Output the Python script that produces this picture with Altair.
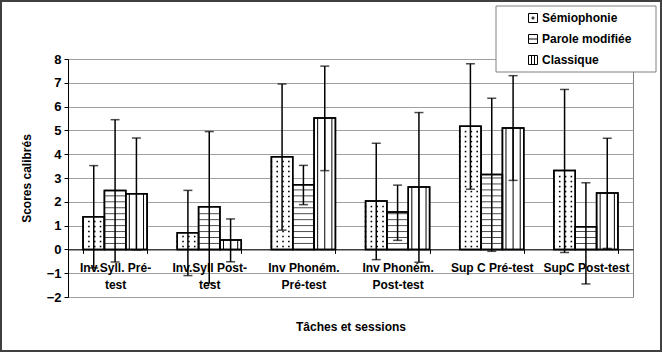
import altair as alt
import pandas as pd

categories = ["Inv.Syll. Pré-\ntest", "Inv.Syll Post-\ntest", "Inv Phoném.\nPré-test",
              "Inv Phoném.\nPost-test", "Sup C Pré-test", "SupC Post-test"]
series = ["Sémiophonie", "Parole modifiée", "Classique"]

semio = [1.37, 0.70, 3.89, 2.03, 5.17, 3.32]
semio_low = [-0.78, -1.10, 0.81, -0.43, 2.53, -0.13]
semio_high = [3.52, 2.48, 6.95, 4.46, 7.80, 6.72]

parole = [2.47, 1.79, 2.72, 1.57, 3.15, 0.95]
parole_low = [-0.53, -1.42, 1.88, 0.38, -0.08, -1.45]
parole_high = [5.45, 4.95, 3.53, 2.70, 6.35, 2.80]

classique = [2.34, 0.39, 5.52, 2.62, 5.10, 2.37]
classique_low = [-0.02, -0.52, 3.31, -0.54, 2.90, 0.04]
classique_high = [4.68, 1.28, 7.70, 5.75, 7.30, 4.67]

y_ticks = list(range(-2, 9))

legend_shapes = [
    "M-1,-1H1V1H-1Z M-0.2,-0.2H0.2V0.2H-0.2Z",
    "M-1,-1H1V1H-1Z M-1,0H1",
    "M-1,-1H1V1H-1Z M-0.33,-1V1 M0.33,-1V1",
]

FONT = "Liberation Sans"

rows = []
for i, c in enumerate(categories):
    for s, v, lo, hi in [(series[0], semio, semio_low, semio_high),
                         (series[1], parole, parole_low, parole_high),
                         (series[2], classique, classique_low, classique_high)]:
        rows.append(dict(cat=c, series=s, value=v[i], low=lo[i], high=hi[i]))
df = pd.DataFrame(rows)

# fill-pattern helpers (decoration derived from the bar heights)
dots = []
for i, c in enumerate(categories):
    r = 0
    yv = 0.12
    while yv < semio[i] - 0.06:
        for col in range(4):
            dots.append(dict(cat=c, slot=col, y=yv))
        r += 1
        yv = 0.12 + 0.21 * r
dots_df = pd.DataFrame(dots)

hstr = []
for i, c in enumerate(categories):
    k = 1
    while 0.25 * k < parole[i] - 0.05:
        hstr.append(dict(cat=c, series=series[1], y=0.25 * k))
        k += 1
hstr_df = pd.DataFrame(hstr)

vstr = []
for i, c in enumerate(categories):
    for sl in (6, 7, 8):
        vstr.append(dict(cat=c, slot=sl, value=classique[i]))
vstr_df = pd.DataFrame(vstr)

x_enc = alt.X(
    "cat:N", sort=categories,
    scale=alt.Scale(domain=categories, paddingInner=0.32, paddingOuter=0.16),
    axis=alt.Axis(
        title="Tâches et sessions", orient="bottom", offset=-47.6,
        labelAngle=0, labelExpr="split(datum.label, '\\n')",
        labelFont=FONT, labelFontWeight="bold", labelFontSize=12, labelColor="black",
        labelPadding=9, labelLineHeight=17, labelBaseline="top",
        domainColor="black", domainWidth=1, tickBand="extent", tickSize=4,
        tickColor="black", grid=False,
        titleFont=FONT, titleFontWeight="bold", titleFontSize=12, titleColor="black",
        titleY=77, titleBaseline="middle",
    ),
)

yscale = alt.Scale(domain=[-2, 8], nice=False, zero=False)
yaxis = alt.Axis(
    title="Scores calibrés", values=y_ticks, format="d",
    labelFont=FONT, labelFontWeight="bold", labelFontSize=13, labelColor="black",
    labelPadding=3, tickSize=4, tickColor="black", domainColor="black", domainWidth=1,
    grid=True, gridColor="#a0a0a0", gridWidth=1,
    titleFont=FONT, titleFontWeight="bold", titleFontSize=12, titleColor="black",
    titleX=-42, titleY=119, titleBaseline="middle", titleAlign="center", titleAngle=-90,
)


def yenc(field):
    return alt.Y(field, scale=yscale, axis=yaxis, title="Scores calibrés")


xoff_series = alt.XOffset("series:N", scale=alt.Scale(domain=series, paddingInner=0, paddingOuter=0))

base = alt.Chart(df)

bars_fill = base.mark_bar(fill="white", stroke="black", strokeWidth=1.5).encode(
    x=x_enc, xOffset=xoff_series, y=yenc("value:Q"), y2=alt.datum(0))

dots_layer = alt.Chart(dots_df).mark_square(size=2.5, color="black", opacity=1).encode(
    x=x_enc,
    xOffset=alt.XOffset("slot:O", scale=alt.Scale(domain=list(range(12)), paddingInner=0, paddingOuter=0)),
    y=yenc("y:Q"))

hstr_layer = alt.Chart(hstr_df).mark_tick(orient="horizontal", size=21, thickness=1, color="black").encode(
    x=x_enc, xOffset=xoff_series, y=yenc("y:Q"))

vstr_layer = alt.Chart(vstr_df).mark_rule(color="black", strokeWidth=1).encode(
    x=x_enc,
    xOffset=alt.XOffset("slot:O", scale=alt.Scale(domain=list(range(9)), paddingInner=0, paddingOuter=0)),
    y=yenc("value:Q"), y2=alt.datum(0))

bars_outline = base.mark_bar(fill="white", fillOpacity=0, stroke="black", strokeWidth=1.5).encode(
    x=x_enc, xOffset=xoff_series, y=yenc("value:Q"), y2=alt.datum(0))

err_rule = base.mark_rule(color="black", strokeWidth=1.5).encode(
    x=x_enc, xOffset=xoff_series, y=yenc("low:Q"), y2="high:Q")
cap_low = base.mark_tick(orient="horizontal", size=9, thickness=1.5, color="black").encode(
    x=x_enc, xOffset=xoff_series, y=yenc("low:Q"))
cap_high = base.mark_tick(orient="horizontal", size=9, thickness=1.5, color="black").encode(
    x=x_enc, xOffset=xoff_series, y=yenc("high:Q"))

frame_df = pd.DataFrame({"k": [0]})
legend_box = alt.Chart(frame_df).mark_rect(fill="white", stroke="#808080", strokeWidth=1).encode(
    x=alt.value(428), x2=alt.value(588), y=alt.value(-53), y2=alt.value(13))

legend_pts = base.mark_point(filled=False, color="black").encode(
    x=x_enc, xOffset=xoff_series, y=yenc("value:Q"),
    opacity=alt.value(0),
    shape=alt.Shape("series:N", scale=alt.Scale(domain=series, range=legend_shapes),
                    legend=alt.Legend(orient="none", legendX=459, legendY=-47, title=None, padding=0,
                                      labelFont=FONT, labelFontWeight="bold", labelFontSize=12,
                                      labelColor="black", symbolSize=81, symbolStrokeWidth=1,
                                      symbolStrokeColor="black", symbolFillColor="white",
                                      symbolOpacity=1, rowPadding=7, labelOffset=3)))

outer_frame = alt.Chart(frame_df).mark_rect(fill=None, stroke="#404040", strokeWidth=2).encode(
    x=alt.value(-67), x2=alt.value(593), y=alt.value(-58), y2=alt.value(292))

chart = alt.layer(
    bars_fill, dots_layer, hstr_layer, vstr_layer, bars_outline,
    err_rule, cap_low, cap_high, legend_box, legend_pts, outer_frame
).resolve_scale(xOffset="independent").properties(
    width=565, height=238,
    autosize=alt.AutoSizeParams(type="none"),
    padding={"left": 68, "top": 59, "right": 29, "bottom": 55},
    background="white",
).configure_view(stroke="#808080", strokeWidth=1)

chart.save("out.html", embed_options={"renderer": "svg", "actions": False})
